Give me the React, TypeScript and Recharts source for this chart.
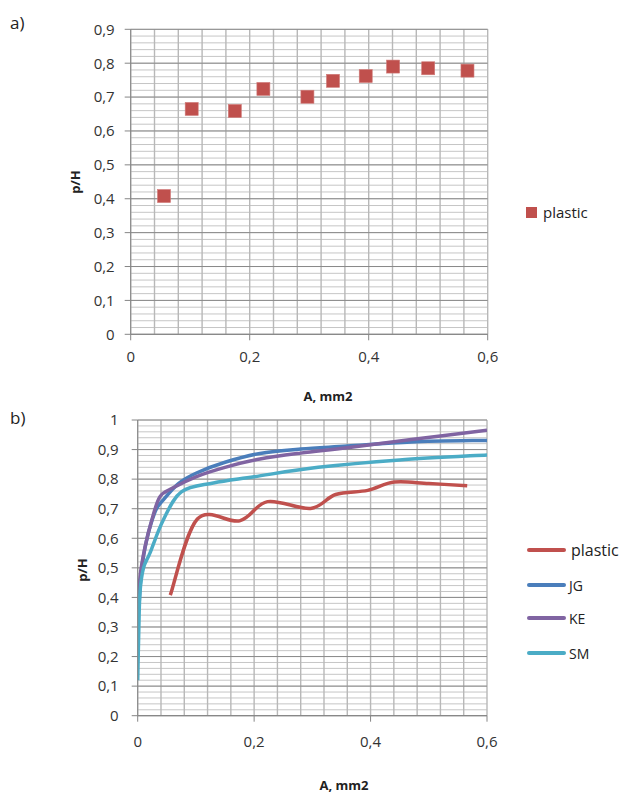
import React from "react";
import {
  ScatterChart,
  Scatter,
  LineChart,
  Line,
  XAxis,
  YAxis,
  CartesianGrid,
} from "recharts";

// ---------- data ----------
const plasticX = [0.056, 0.1025, 0.175, 0.223, 0.297, 0.34, 0.395, 0.441, 0.5, 0.566];
const plasticY = [0.408, 0.665, 0.659, 0.724, 0.701, 0.748, 0.762, 0.79, 0.785, 0.778];

const jgX = [0.002, 0.006, 0.015, 0.03, 0.044, 0.07, 0.1, 0.15, 0.21, 0.28, 0.36, 0.47, 0.6];
const jgY = [0.36, 0.48, 0.59, 0.69, 0.73, 0.785, 0.82, 0.857, 0.887, 0.902, 0.912, 0.926, 0.931];

const keX = [0.002, 0.004, 0.0125, 0.024, 0.038, 0.06, 0.1, 0.15, 0.21, 0.28, 0.36, 0.47, 0.6];
const keY = [0.38, 0.47, 0.57, 0.66, 0.74, 0.77, 0.808, 0.84, 0.868, 0.888, 0.906, 0.934, 0.965];

const smX = [0, 0.002, 0.004, 0.01, 0.021, 0.044, 0.075, 0.13, 0.2, 0.31, 0.45, 0.6];
const smY = [0.12, 0.3, 0.42, 0.5, 0.55, 0.662, 0.757, 0.787, 0.808, 0.84, 0.865, 0.882];

const xTicks = [0, 0.2, 0.4, 0.6];
const yTicksA = [0, 0.1, 0.2, 0.3, 0.4, 0.5, 0.6, 0.7, 0.8, 0.9];
const yTicksB = [0, 0.1, 0.2, 0.3, 0.4, 0.5, 0.6, 0.7, 0.8, 0.9, 1];

const seriesB = [
  { name: "plastic", xs: plasticX, ys: plasticY, color: "#c0504d" },
  { name: "JG", xs: jgX, ys: jgY, color: "#4a7ebb" },
  { name: "KE", xs: keX, ys: keY, color: "#8064a2" },
  { name: "SM", xs: smX, ys: smY, color: "#4bacc6" },
];

// grid helper values
const steps = (max: number, step: number) =>
  Array.from({ length: Math.round(max / step) + 1 }, (_, i) => +(i * step).toFixed(4));

const FONT = "'Open Sans', sans-serif";
const fmt = (v: number) => String(+v.toFixed(2)).replace(".", ",");

// Excel-like smoothing (Catmull-Rom with 1/6 tension)
const excelSmooth: any = (context: any) => {
  let pts: number[][] = [];
  return {
    areaStart() {},
    areaEnd() {},
    lineStart() {
      pts = [];
    },
    point(x: number, y: number) {
      pts.push([+x, +y]);
    },
    lineEnd() {
      const n = pts.length;
      if (!n) return;
      context.moveTo(pts[0][0], pts[0][1]);
      for (let i = 0; i < n - 1; i++) {
        const p0 = pts[i - 1] || pts[i];
        const p1 = pts[i];
        const p2 = pts[i + 1];
        const p3 = pts[i + 2] || p2;
        context.bezierCurveTo(
          p1[0] + (p2[0] - p0[0]) / 6,
          p1[1] + (p2[1] - p0[1]) / 6,
          p2[0] - (p3[0] - p1[0]) / 6,
          p2[1] - (p3[1] - p1[1]) / 6,
          p2[0],
          p2[1]
        );
      }
    },
  };
};

const SquareShape = (props: any) => {
  const { cx, cy } = props;
  if (cx == null || cy == null) return null;
  return <rect x={cx - 6.5} y={cy - 6.5} width={13} height={13} fill="#c0504d" stroke="#d07a78" strokeWidth={0.6} />;
};

const tickStyle = { fontSize: 15, fill: "#333", fontFamily: FONT };

const abs = (left: number, top: number, extra: any = {}) => ({
  position: "absolute" as const,
  left,
  top,
  fontFamily: FONT,
  color: "#222",
  whiteSpace: "nowrap" as const,
  ...extra,
});

const MINOR = "#c6c6c6";
const VERT = "#b8b8b8";
const MAJOR = "#8a8a8a";

export default function App() {
  const scatterData = plasticX.map((x, i) => ({ x, y: plasticY[i] }));
  return (
    <div style={{ position: "absolute", left: 0, top: 0, width: 627, height: 794, background: "#fff", overflow: "hidden" }}>
      {/* Chart a */}
      <div style={{ position: "absolute", left: 0, top: 0 }}>
        <ScatterChart width={627} height={410} margin={{ top: 29.3, right: 139.3, bottom: 0, left: 0 }}>
          <CartesianGrid horizontalValues={steps(0.9, 0.02)} vertical={false} stroke={MINOR} />
          <CartesianGrid verticalValues={steps(0.6, 0.04)} horizontal={false} stroke={VERT} strokeWidth={1.4} />
          <CartesianGrid horizontalValues={yTicksA} vertical={false} stroke={MAJOR} />
          <XAxis
            type="number"
            dataKey="x"
            domain={[0, 0.6]}
            ticks={xTicks}
            interval={0}
            tickFormatter={fmt}
            height={75.7}
            tickSize={6}
            tickMargin={11}
            stroke="#868686"
            tick={tickStyle}
            allowDataOverflow
          />
          <YAxis
            type="number"
            dataKey="y"
            domain={[0, 0.9]}
            ticks={yTicksA}
            interval={0}
            tickFormatter={fmt}
            width={130.7}
            tickSize={6}
            tickMargin={10}
            stroke="#868686"
            tick={tickStyle}
            allowDataOverflow
          />
          <Scatter data={scatterData} shape={<SquareShape />} isAnimationActive={false} />
        </ScatterChart>
      </div>

      {/* Chart b */}
      <div style={{ position: "absolute", left: 0, top: 400 }}>
        <LineChart width={627} height={394} margin={{ top: 20, right: 140, bottom: 0, left: 0 }}>
          <CartesianGrid horizontalValues={steps(1, 0.02)} vertical={false} stroke={MINOR} />
          <CartesianGrid verticalValues={steps(0.6, 0.04)} horizontal={false} stroke={VERT} strokeWidth={1.4} />
          <CartesianGrid horizontalValues={yTicksB} vertical={false} stroke={MAJOR} />
          <XAxis
            type="number"
            dataKey="x"
            domain={[0, 0.6]}
            ticks={xTicks}
            interval={0}
            tickFormatter={fmt}
            height={78.3}
            tickSize={6}
            tickMargin={15}
            stroke="#868686"
            tick={tickStyle}
            allowDataOverflow
          />
          <YAxis
            type="number"
            domain={[0, 1]}
            ticks={yTicksB}
            interval={0}
            tickFormatter={fmt}
            width={137.7}
            tickSize={6}
            tickMargin={13}
            stroke="#868686"
            tick={tickStyle}
            allowDataOverflow
          />
          {seriesB.map((s) => (
            <Line
              key={s.name}
              data={s.xs.map((x, i) => ({ x, y: s.ys[i] }))}
              dataKey="y"
              type={excelSmooth}
              stroke={s.color}
              strokeWidth={3.5}
              dot={false}
              activeDot={false}
              isAnimationActive={false}
            />
          ))}
        </LineChart>
      </div>

      {/* Panel labels */}
      <div style={abs(10, 11, { fontSize: 17 })}>a)</div>
      <div style={abs(10, 406, { fontSize: 17 })}>b)</div>

      {/* Axis titles */}
      <div style={abs(328, 396, { fontSize: 13, fontWeight: 700, transform: "translate(-50%,-50%)" })}>A, mm2</div>
      <div style={abs(344, 785, { fontSize: 13, fontWeight: 700, transform: "translate(-50%,-50%)" })}>A, mm2</div>
      <div style={abs(75, 182, { fontSize: 13, fontWeight: 700, transform: "translate(-50%,-50%) rotate(-90deg)" })}>p/H</div>
      <div style={abs(82, 570, { fontSize: 13, fontWeight: 700, transform: "translate(-50%,-50%) rotate(-90deg)" })}>p/H</div>

      {/* Legend a */}
      <div style={{ position: "absolute", left: 526, top: 207, width: 11, height: 11, background: "#c0504d" }} />
      <div style={abs(543, 212, { fontSize: 15, transform: "translateY(-50%)" })}>plastic</div>

      {/* Legend b */}
      {seriesB.map((s, i) => {
        const y = [550, 585, 618, 653][i];
        return (
          <React.Fragment key={s.name}>
            <div style={{ position: "absolute", left: 527, top: y - 2, width: 39, height: 4, borderRadius: 2, background: s.color }} />
            <div style={abs(i === 0 ? 571 : 569, y, { fontSize: i === 0 ? 16 : 14, transform: "translateY(-50%)" })}>{s.name}</div>
          </React.Fragment>
        );
      })}
    </div>
  );
}
